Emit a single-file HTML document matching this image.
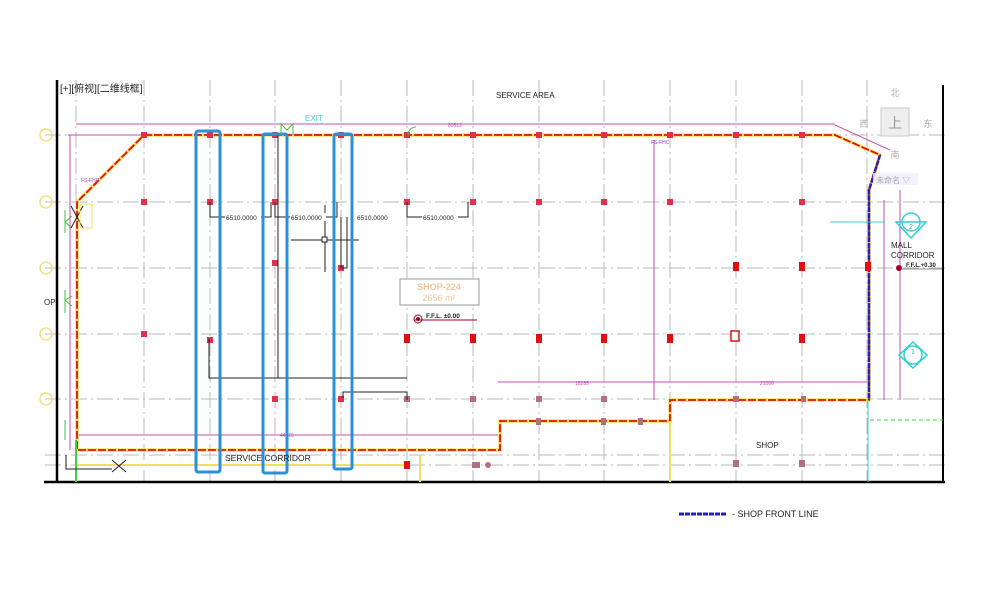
<!DOCTYPE html>
<html><head><meta charset="utf-8"><style>
html,body{margin:0;padding:0;background:#fff;}
svg{display:block;font-family:"Liberation Sans","Noto Sans CJK SC",sans-serif;}
</style></head><body>
<svg width="1000" height="600" viewBox="0 0 1000 600" xmlns="http://www.w3.org/2000/svg">
<rect width="1000" height="600" fill="#fff"/>
<g stroke="#b8b8b8" stroke-width="1" stroke-dasharray="16,4,2,4" fill="none">
<line x1="76" y1="80" x2="76" y2="482"/><line x1="144" y1="80" x2="144" y2="482"/>
<line x1="210" y1="80" x2="210" y2="482"/><line x1="275" y1="80" x2="275" y2="482"/>
<line x1="341" y1="80" x2="341" y2="482"/><line x1="407" y1="80" x2="407" y2="482"/>
<line x1="473" y1="80" x2="473" y2="482"/><line x1="539" y1="80" x2="539" y2="482"/>
<line x1="604" y1="80" x2="604" y2="482"/><line x1="670" y1="80" x2="670" y2="482"/>
<line x1="736" y1="80" x2="736" y2="482"/><line x1="802" y1="80" x2="802" y2="482"/>
<line x1="867" y1="80" x2="867" y2="482"/>
<line x1="45" y1="135" x2="945" y2="135"/><line x1="45" y1="202" x2="945" y2="202"/>
<line x1="45" y1="268" x2="945" y2="268"/><line x1="45" y1="334" x2="945" y2="334"/>
<line x1="45" y1="399" x2="945" y2="399"/><line x1="45" y1="455" x2="945" y2="455"/>
<line x1="45" y1="465" x2="945" y2="465"/>
</g>
<g stroke="#000" fill="none">
<line x1="57" y1="80" x2="57" y2="483" stroke-width="2.5"/>
<line x1="44" y1="482" x2="945" y2="482" stroke-width="2.5"/>
<line x1="943" y1="85" x2="943" y2="482" stroke-width="2"/>
</g>
<g stroke="#c050b0" stroke-width="1" fill="none">
<line x1="76" y1="124" x2="835" y2="124"/>
<line x1="68" y1="135" x2="144" y2="135"/>
<line x1="70" y1="135" x2="70" y2="450"/>
<line x1="78" y1="435" x2="498" y2="435"/>
<line x1="498" y1="382" x2="868" y2="382"/>
<line x1="654" y1="140" x2="654" y2="400"/>
<line x1="884" y1="200" x2="884" y2="400"/>
<line x1="900" y1="190" x2="900" y2="400"/>
<line x1="835" y1="125" x2="890" y2="150"/>
</g>
<g fill="#c050b0" font-size="5"><text x="448" y="127">80512</text><text x="280" y="437">44715</text><text x="575" y="385">18285</text><text x="760" y="385">21000</text></g>
<polyline points="144,135 835,135 880,155 869,190 869,400 670,400 670,421 500,421 500,450 77,450 77,202 144,135" fill="none" stroke="#ffe066" stroke-width="3.5"/>
<polyline points="144,135 835,135 880,155 869,190 869,400 670,400 670,421 500,421 500,450 77,450 77,202 144,135" fill="none" stroke="#e01010" stroke-width="1.8" stroke-dasharray="8,2"/>
<polyline points="880,155 869,190 869,400" fill="none" stroke="#2020c0" stroke-width="2.5" stroke-dasharray="5,1"/>
<line x1="78" y1="465" x2="410" y2="465" stroke="#f0e060" stroke-width="2"/>
<line x1="420" y1="455" x2="420" y2="482" stroke="#f0e060" stroke-width="2"/>
<line x1="670" y1="421" x2="670" y2="482" stroke="#f0e060" stroke-width="2"/>
<line x1="868" y1="400" x2="868" y2="482" stroke="#40d0d0" stroke-width="1"/>
<line x1="870" y1="420" x2="943" y2="420" stroke="#40d040" stroke-width="1" stroke-dasharray="4,3"/>
<line x1="76" y1="440" x2="76" y2="482" stroke="#40d040" stroke-width="2"/>
<g fill="#e03050">
<rect x="141" y="132" width="6" height="6"/><rect x="207" y="132" width="6" height="6"/><rect x="272" y="132" width="6" height="6"/><rect x="338" y="132" width="6" height="6"/><rect x="404" y="132" width="6" height="6"/><rect x="470" y="132" width="6" height="6"/><rect x="536" y="132" width="6" height="6"/><rect x="601" y="132" width="6" height="6"/><rect x="667" y="132" width="6" height="6"/><rect x="733" y="132" width="6" height="6"/><rect x="799" y="132" width="6" height="6"/>
<rect x="141" y="199" width="6" height="6"/><rect x="207" y="199" width="6" height="6"/><rect x="272" y="199" width="6" height="6"/><rect x="404" y="199" width="6" height="6"/><rect x="470" y="199" width="6" height="6"/><rect x="536" y="199" width="6" height="6"/><rect x="601" y="199" width="6" height="6"/><rect x="667" y="199" width="6" height="6"/><rect x="799" y="199" width="6" height="6"/>
<rect x="338" y="265" width="6" height="6"/><rect x="272" y="260" width="6" height="6"/>
<rect x="141" y="331" width="6" height="6"/><rect x="207" y="337" width="6" height="6"/>
<rect x="272" y="396" width="6" height="6"/><rect x="338" y="396" width="6" height="6"/>
</g>
<g fill="#e01010">
<rect x="404" y="334" width="6" height="9"/><rect x="470" y="334" width="6" height="9"/><rect x="536" y="334" width="6" height="9"/><rect x="601" y="334" width="6" height="9"/><rect x="667" y="334" width="6" height="9"/><rect x="799" y="334" width="6" height="9"/>
<rect x="733" y="262" width="6" height="9"/><rect x="799" y="262" width="6" height="9"/><rect x="865" y="262" width="6" height="9"/>
<rect x="404" y="461" width="6" height="8"/>
</g>
<rect x="731" y="331" width="8" height="10" fill="#fff" stroke="#e01010" stroke-width="1.5"/>
<g fill="#b07080">
<rect x="404" y="396" width="6" height="6"/><rect x="470" y="396" width="6" height="6"/><rect x="536" y="396" width="6" height="6"/><rect x="601" y="396" width="6" height="6"/><rect x="801" y="396" width="5" height="6"/>
<rect x="536" y="418" width="5" height="7"/><rect x="601" y="418" width="5" height="7"/><rect x="638" y="418" width="5" height="7"/><rect x="733" y="396" width="6" height="6"/>
<rect x="472" y="462" width="8" height="6"/><circle cx="488" cy="465" r="3"/><rect x="733" y="460" width="6" height="7"/><rect x="799" y="460" width="6" height="7"/>
</g>
<g stroke="#222" stroke-width="1" fill="none">
<polyline points="210,202 210,217 271,217 271,202"/>
<polyline points="275,202 275,217 337,217 337,202"/>
<polyline points="347,217 347,268 341,268 341,217"/>
<polyline points="407,202 407,217 468,217 468,202"/>
<line x1="278" y1="135" x2="278" y2="378"/>
<polyline points="209,339 209,378 407,378"/>
<polyline points="343,398 343,392 407,392 407,400"/>
<line x1="325" y1="205" x2="325" y2="272"/><line x1="291" y1="240" x2="359" y2="240"/>
<rect x="322" y="237" width="5" height="5" fill="#fff"/>
<line x1="112" y1="460" x2="126" y2="472"/><line x1="126" y1="460" x2="112" y2="472"/>
<polyline points="66,455 66,469 112,469"/>
</g>
<g font-size="6.5" fill="#222"><rect x="225" y="213" width="36" height="8" fill="#fff"/><text x="226" y="220">6510.0000</text>
<rect x="290" y="213" width="36" height="8" fill="#fff"/><text x="291" y="220">6510.0000</text>
<rect x="356" y="213" width="36" height="8" fill="#fff"/><text x="357" y="220">6510.0000</text>
<rect x="422" y="213" width="36" height="8" fill="#fff"/><text x="423" y="220">6510.0000</text></g>
<g fill="none" stroke="#2a90d8" stroke-width="3">
<rect x="196" y="131" width="24" height="341" rx="2"/>
<rect x="263" y="134" width="24" height="339" rx="2"/>
<rect x="334" y="134" width="18" height="335" rx="2"/>
</g>
<g stroke="#40c040" fill="none" stroke-width="1">
<path d="M281,135 V124 L287,130 L293,124 V135"/><path d="M65,210 V233 M65,222 L72,216 M65,222 L72,228"/>
<path d="M65,290 V313 M65,300 L72,296 M65,300 L72,306"/>
<path d="M65,420 V440"/>
</g>
<path d="M408,135 A8,8 0 0 1 416,127" stroke="#40c040" fill="none"/>
<g stroke="#222" fill="none"><line x1="71" y1="206" x2="83" y2="228"/><line x1="83" y1="206" x2="71" y2="228"/></g>
<rect x="80" y="204" width="12" height="24" fill="none" stroke="#f0e060"/>
<g fill="none" stroke="#f0e080" stroke-width="1.5">
<circle cx="46" cy="135" r="6"/><circle cx="46" cy="202" r="6"/><circle cx="46" cy="268" r="6"/><circle cx="46" cy="334" r="6"/><circle cx="46" cy="399" r="6"/>
</g>
<text x="60" y="92" font-size="10" fill="#222">[+][俯视][二维线框]</text>
<text x="496" y="98" font-size="8" fill="#222">SERVICE AREA</text>
<text x="305" y="121" font-size="8" fill="#40d0d0">EXIT</text>
<text x="44" y="305" font-size="8" fill="#222">OP</text>
<text x="225" y="461" font-size="8.5" fill="#222">SERVICE CORRIDOR</text>
<text x="756" y="448" font-size="8" fill="#222">SHOP</text>
<text x="891" y="248" font-size="8" fill="#222">MALL</text>
<text x="891" y="258" font-size="8" fill="#222">CORRIDOR</text>
<text x="81" y="182" font-size="5" fill="#a040c0">FS-FHC</text>
<text x="651" y="144" font-size="5" fill="#a040c0">FS-FHC</text>
<rect x="400" y="279" width="79" height="26" fill="#fff" stroke="#999"/>
<text x="439" y="290" font-size="9" font-weight="bold" fill="#f0c898" text-anchor="middle">SHOP-224</text>
<text x="439" y="301" font-size="9" fill="#f0c898" text-anchor="middle">2656 m²</text>
<circle cx="418" cy="319" r="4" fill="#fff" stroke="#a00020"/><circle cx="418" cy="319" r="2" fill="#a00020"/>
<line x1="414" y1="320" x2="477" y2="320" stroke="#a00020"/>
<text x="426" y="318" font-size="6.5" font-weight="bold" fill="#222">F.F.L. ±0.00</text>
<circle cx="899" cy="268" r="3" fill="#a00020"/>
<text x="906" y="267" font-size="6" font-weight="bold" fill="#222">F.F.L.+0.30</text>
<line x1="902" y1="269" x2="943" y2="269" stroke="#222" stroke-width="0.5"/>
<line x1="830" y1="222" x2="885" y2="222" stroke="#40d0d0"/>
<g stroke="#30d0d0" fill="none" stroke-width="1.5"><circle cx="911" cy="222" r="9"/><path d="M896,222 H926 L911,238 Z"/>
<circle cx="913" cy="355" r="9"/><path d="M899,355 L913,342 L927,355 L913,368 Z"/></g>
<text x="911" y="229" font-size="7" fill="#20b0b0" text-anchor="middle">2</text>
<text x="913" y="354" font-size="7" fill="#20b0b0" text-anchor="middle">1</text>
<rect x="881" y="108" width="28" height="28" fill="#eee" stroke="#ccc"/>
<text x="895" y="128" font-size="14" fill="#999" text-anchor="middle">上</text>
<text x="895" y="96" font-size="9" fill="#aaa" text-anchor="middle">北</text>
<text x="864" y="127" font-size="9" fill="#aaa" text-anchor="middle">西</text>
<text x="928" y="127" font-size="9" fill="#aaa" text-anchor="middle">东</text>
<text x="895" y="158" font-size="9" fill="#aaa" text-anchor="middle">南</text>
<rect x="873" y="173" width="45" height="12" fill="#eef" opacity="0.8"/>
<text x="876" y="183" font-size="8" fill="#aaa">未命名 ▽</text>
<line x1="679" y1="514" x2="727" y2="514" stroke="#2020c0" stroke-width="3" stroke-dasharray="5,1"/>
<text x="732" y="517" font-size="9" fill="#222">- SHOP FRONT LINE</text>
</svg>
</body></html>
